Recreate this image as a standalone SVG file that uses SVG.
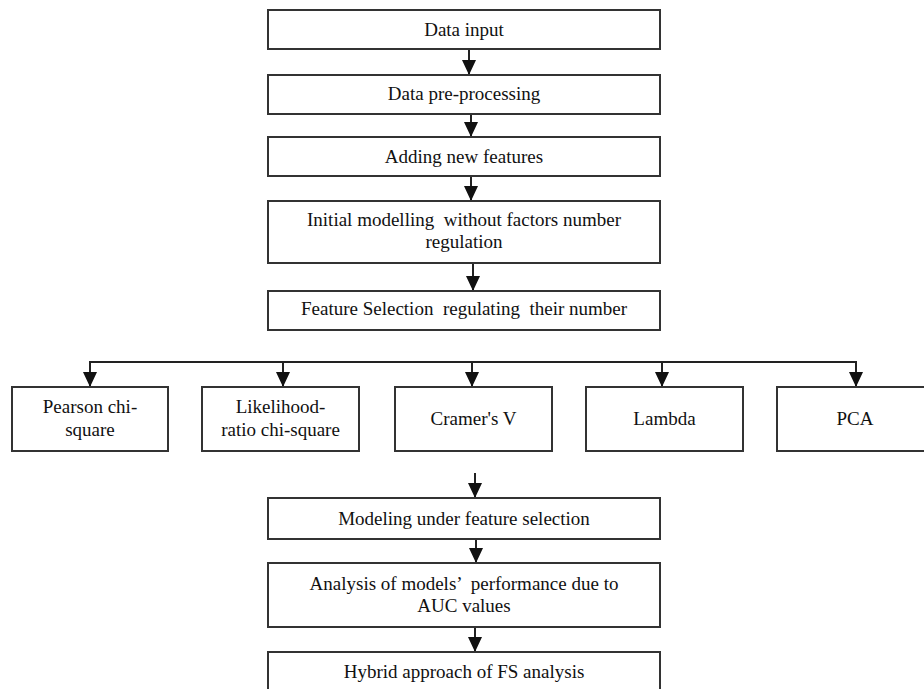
<svg xmlns="http://www.w3.org/2000/svg" width="924" height="689" viewBox="0 0 924 689" font-family="Liberation Serif, Times New Roman, DejaVu Serif, serif">
<style>
.box{fill:#fff;stroke:#333;stroke-width:2}
.t{font-size:19px;fill:#111;text-anchor:middle}
.c{fill:none;stroke:#222;stroke-width:2}
</style>
<defs>
<marker id="ah" markerUnits="userSpaceOnUse" markerWidth="15" markerHeight="14" refX="15" refY="7" orient="auto">
<path d="M0,0 L15,7 L0,14 z" fill="#111"/>
</marker>
</defs>
<rect width="924" height="689" fill="#fff"/>
<g id="connectors">
<line class="c" x1="469" y1="49" x2="469" y2="75" marker-end="url(#ah)"/>
<line class="c" x1="471" y1="114" x2="471" y2="137" marker-end="url(#ah)"/>
<line class="c" x1="471" y1="176" x2="471" y2="201" marker-end="url(#ah)"/>
<line class="c" x1="473" y1="263" x2="473" y2="291" marker-end="url(#ah)"/>
<polyline class="c" points="90,362 856,362"/>
<line class="c" x1="90" y1="361" x2="90" y2="387" marker-end="url(#ah)"/>
<line class="c" x1="283" y1="362" x2="283" y2="387" marker-end="url(#ah)"/>
<line class="c" x1="472" y1="362" x2="472" y2="387" marker-end="url(#ah)"/>
<line class="c" x1="662" y1="362" x2="662" y2="387" marker-end="url(#ah)"/>
<line class="c" x1="856" y1="361" x2="856" y2="387" marker-end="url(#ah)"/>
<line class="c" x1="475" y1="473" x2="475" y2="498" marker-end="url(#ah)"/>
<line class="c" x1="476" y1="539" x2="476" y2="563" marker-end="url(#ah)"/>
<line class="c" x1="475" y1="627" x2="475" y2="652" marker-end="url(#ah)"/>
</g>
<g id="n1"><rect class="box" x="268" y="10" width="392" height="39"/><text class="t" x="464" y="36">Data input</text></g>
<g id="n2"><rect class="box" x="268" y="75" width="392" height="39"/><text class="t" x="464" y="100">Data pre-processing</text></g>
<g id="n3"><rect class="box" x="268" y="137" width="392" height="39"/><text class="t" x="464" y="163">Adding new features</text></g>
<g id="n4"><rect class="box" x="268" y="201" width="392" height="62"/><text class="t" x="464" y="226" xml:space="preserve">Initial modelling  without factors number</text><text class="t" x="464" y="248">regulation</text></g>
<g id="n5"><rect class="box" x="268" y="291" width="392" height="39"/><text class="t" x="464" y="315" xml:space="preserve">Feature Selection  regulating  their number</text></g>
<g id="n6"><rect class="box" x="12" y="387" width="156" height="64"/><text class="t" x="90" y="413">Pearson chi-</text><text class="t" x="90" y="436">square</text></g>
<g id="n7"><rect class="box" x="202" y="387" width="157" height="64"/><text class="t" x="280.5" y="413">Likelihood-</text><text class="t" x="280.5" y="436">ratio chi-square</text></g>
<g id="n8"><rect class="box" x="395" y="387" width="157" height="64"/><text class="t" x="473.5" y="425">Cramer's V</text></g>
<g id="n9"><rect class="box" x="586" y="387" width="157" height="64"/><text class="t" x="664.5" y="425">Lambda</text></g>
<g id="n10"><rect class="box" x="777" y="387" width="157" height="64"/><text class="t" x="855" y="425">PCA</text></g>
<g id="n11"><rect class="box" x="268" y="498" width="392" height="41"/><text class="t" x="464" y="525">Modeling under feature selection</text></g>
<g id="n12"><rect class="box" x="268" y="563" width="392" height="64"/><text class="t" x="464" y="590" xml:space="preserve">Analysis of models’  performance due to</text><text class="t" x="464" y="612">AUC values</text></g>
<g id="n13"><rect class="box" x="268" y="652" width="392" height="60"/><text class="t" x="464" y="678">Hybrid approach of FS analysis</text></g>
</svg>
